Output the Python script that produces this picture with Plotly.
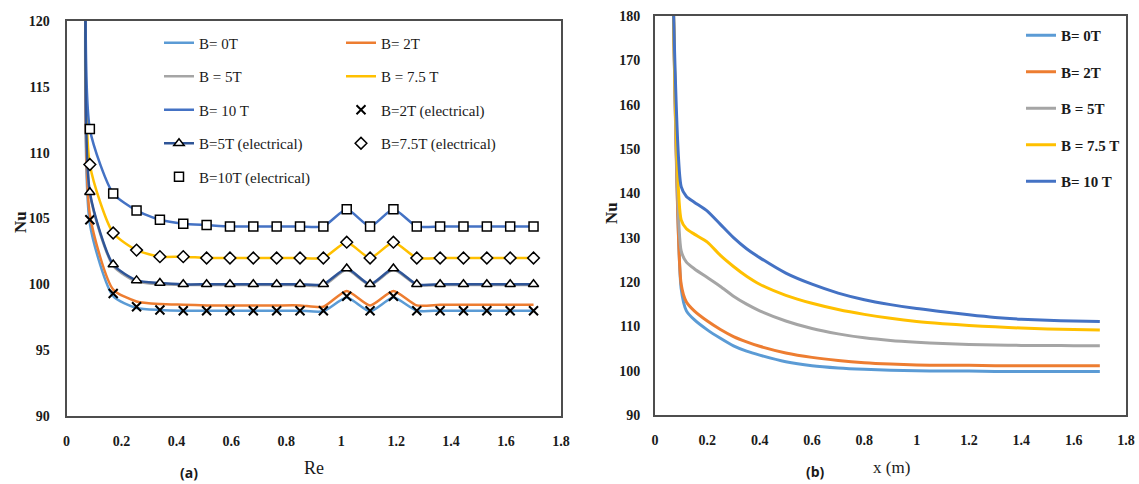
import plotly.graph_objects as go

# ---------------- Panel (a): Nu vs Re ----------------
re_marks = [0.085, 0.17, 0.255, 0.34, 0.425, 0.51, 0.595, 0.68, 0.765, 0.85,
            0.935, 1.02, 1.105, 1.19, 1.275, 1.36, 1.445, 1.53, 1.615, 1.70]
re_line = [0.075, 0.085, 0.17, 0.255, 0.34, 0.425, 0.51, 0.595, 0.68, 0.765, 0.85,
           0.935, 1.02, 1.105, 1.19, 1.275, 1.36, 1.445, 1.53, 1.615, 1.70]

nu_a_0T = [135, 104.6, 99.1, 98.2, 98.05, 98.0, 98.0, 98.0, 98.0, 98.0, 98.0,
           97.95, 99.0, 97.95, 99.0, 98.0, 98.0, 98.0, 98.0, 98.0, 98.0]
nu_a_2T = [135, 105.3, 99.6, 98.7, 98.5, 98.45, 98.4, 98.4, 98.4, 98.4, 98.4,
           98.3, 99.5, 98.4, 99.5, 98.4, 98.45, 98.45, 98.45, 98.45, 98.45]
nu_a_5T = [135, 106.9, 101.4, 100.2, 100.0, 99.95, 99.95, 99.95, 99.95, 99.95, 99.95,
           99.9, 101.1, 99.95, 101.1, 99.95, 99.95, 99.95, 99.95, 99.95, 99.95]
nu_a_75T = [135, 109.1, 103.9, 102.6, 102.1, 102.1, 102.0, 102.0, 102.0, 102.0, 102.0,
            102.0, 103.2, 102.0, 103.2, 102.0, 102.0, 102.0, 102.0, 102.0, 102.0]
nu_a_10T = [135, 111.8, 106.9, 105.6, 104.9, 104.6, 104.5, 104.4, 104.4, 104.4, 104.4,
            104.4, 105.7, 104.4, 105.7, 104.4, 104.4, 104.4, 104.4, 104.4, 104.4]

nu_e_2T = [104.9, 99.3, 98.3, 98.05, 98.0, 98.0, 98.0, 98.0, 98.0, 98.0,
           98.0, 99.1, 98.0, 99.1, 98.0, 98.0, 98.0, 98.0, 98.0, 98.0]
nu_e_5T = [135, 107.0, 101.5, 100.3, 100.1, 100.0, 100.0, 100.0, 100.0, 100.0, 100.0,
           100.0, 101.2, 100.0, 101.2, 100.0, 100.0, 100.0, 100.0, 100.0, 100.0]
nu_e_75T = [109.1, 103.9, 102.6, 102.1, 102.1, 102.0, 102.0, 102.0, 102.0, 102.0,
            102.0, 103.2, 102.0, 103.2, 102.0, 102.0, 102.0, 102.0, 102.0, 102.0]
nu_e_10T = [111.8, 106.9, 105.6, 104.9, 104.6, 104.5, 104.4, 104.4, 104.4, 104.4,
            104.4, 105.7, 104.4, 105.7, 104.4, 104.4, 104.4, 104.4, 104.4, 104.4]

# ---------------- Panel (b): Nu vs x ----------------
x_b = [0.07, 0.1, 0.12, 0.15, 0.2, 0.25, 0.3, 0.35, 0.4, 0.5, 0.6, 0.7, 0.8, 0.9,
       1.0, 1.1, 1.2, 1.3, 1.4, 1.5, 1.6, 1.7]
nu_b_10T = [183, 141.5, 139.3, 138.0, 136.0, 133.0, 130.0, 127.5, 125.5, 122.0, 119.5,
            117.5, 116.0, 114.9, 114.0, 113.3, 112.6, 112.0, 111.6, 111.35, 111.2, 111.1]
nu_b_75T = [183, 134.0, 132.0, 130.8, 129.0, 126.0, 123.5, 121.3, 119.5, 117.0, 115.2,
            113.8, 112.7, 111.8, 111.1, 110.6, 110.2, 109.9, 109.6, 109.4, 109.3, 109.2]
nu_b_5T = [183, 127.0, 124.5, 123.0, 121.0, 119.0, 116.8, 115.0, 113.5, 111.2, 109.5,
           108.3, 107.4, 106.8, 106.4, 106.1, 105.9, 105.8, 105.7, 105.7, 105.6, 105.6]
nu_b_2T = [183, 119.5, 115.5, 113.5, 111.2, 109.3, 107.7, 106.5, 105.5, 104.0, 103.0,
           102.3, 101.8, 101.5, 101.3, 101.2, 101.2, 101.1, 101.1, 101.1, 101.1, 101.1]
nu_b_0T = [183, 118.5, 113.5, 111.5, 109.2, 107.3, 105.6, 104.4, 103.5, 102.0, 101.1,
           100.6, 100.3, 100.1, 100.0, 99.9, 99.9, 99.8, 99.8, 99.8, 99.8, 99.8]

names_a = ["B= 0T", "B= 2T", "B = 5T", "B = 7.5 T", "B= 10 T",
           "B=2T (electrical)", "B=5T (electrical)", "B=7.5T (electrical)", "B=10T (electrical)"]
names_b = ["B= 0T", "B= 2T", "B = 5T", "B = 7.5 T", "B= 10 T"]

C0, C2, C5, C75, C10, CE5 = "#5B9BD5", "#ED7D31", "#A5A5A5", "#FFC000", "#4472C4", "#2F5597"

W, H = 1139, 484
SERIF = "Liberation Serif"
TXT = "#1a1a1a"


def px(x):   # window pixel -> paper x
    return x / W


def py(y):   # window pixel -> paper y
    return 1 - y / H


fig = go.Figure()


def add_line(x, y, name, color, legend, xa, ya, width=2.5):
    fig.add_trace(go.Scatter(x=x, y=y, name=name, mode="lines",
                             line=dict(color=color, width=width, shape="spline", smoothing=0.6),
                             legend=legend, legendgroup=name + legend,
                             xaxis=xa, yaxis=ya))


# panel (a) lines (column 1 = legend, column 2 = legend2)
add_line(re_line, nu_a_0T, names_a[0], C0, "legend", "x", "y")
add_line(re_line, nu_a_2T, names_a[1], C2, "legend2", "x", "y")
add_line(re_line, nu_a_5T, names_a[2], C5, "legend", "x", "y")
add_line(re_line, nu_a_75T, names_a[3], C75, "legend2", "x", "y")
add_line(re_line, nu_a_10T, names_a[4], C10, "legend", "x", "y")

mk_line = dict(color="black", width=1.5)
fig.add_trace(go.Scatter(x=re_marks, y=nu_e_2T, name=names_a[5], mode="markers",
                         marker=dict(symbol="x-thin", size=9, line=dict(color="black", width=2)),
                         legend="legend2", legendgroup="e2", xaxis="x", yaxis="y"))
fig.add_trace(go.Scatter(x=re_line, y=nu_e_5T, name=names_a[6], mode="lines+markers",
                         line=dict(color=CE5, width=2.5, shape="spline", smoothing=0.6),
                         marker=dict(symbol="triangle-up", size=9, color="white", line=mk_line),
                         legend="legend", legendgroup="e5", xaxis="x", yaxis="y"))
fig.add_trace(go.Scatter(x=re_marks, y=nu_e_75T, name=names_a[7], mode="markers",
                         marker=dict(symbol="diamond", size=9, color="white", line=mk_line),
                         legend="legend2", legendgroup="e75", xaxis="x", yaxis="y"))
fig.add_trace(go.Scatter(x=re_marks, y=nu_e_10T, name=names_a[8], mode="markers",
                         marker=dict(symbol="square", size=9, color="white", line=mk_line),
                         legend="legend", legendgroup="e10", xaxis="x", yaxis="y"))

# panel (b)
for yv, nm, col in [(nu_b_0T, names_b[0], C0), (nu_b_2T, names_b[1], C2),
                    (nu_b_5T, names_b[2], C5), (nu_b_75T, names_b[3], C75),
                    (nu_b_10T, names_b[4], C10)]:
    add_line(x_b, yv, nm, col, "legend3", "x2", "y2", width=3)

axis_common = dict(showgrid=False, zeroline=False, showline=True, mirror=True,
                   linecolor="#4d4d4d", linewidth=2, ticks="", automargin=False,
                   ticklabeloverflow="allow",
                   tickfont=dict(family=SERIF, size=14, color=TXT, weight="bold"))

fig.update_layout(
    width=W, height=H, margin=dict(l=0, r=0, t=0, b=0, autoexpand=False),
    paper_bgcolor="white", plot_bgcolor="white",
    xaxis=dict(domain=[px(66.5), px(561)], range=[0, 1.8], dtick=0.2,
               ticklabelstandoff=11, anchor="y", **axis_common),
    yaxis=dict(domain=[py(416), py(21)], range=[90, 120], dtick=5,
               ticklabelstandoff=12, anchor="x", **axis_common),
    xaxis2=dict(domain=[px(655), px(1126)], range=[0, 1.8], dtick=0.2,
                ticklabelstandoff=11, anchor="y2", **axis_common),
    yaxis2=dict(domain=[py(415), py(16)], range=[90, 180], dtick=10,
                ticklabelstandoff=10, anchor="x2", **axis_common),
    showlegend=True,
    legend=dict(x=px(159), y=py(26.5), xanchor="left", yanchor="top",
                bgcolor="rgba(0,0,0,0)", tracegroupgap=11,
                font=dict(family=SERIF, size=15, color=TXT)),
    legend2=dict(x=px(341), y=py(26.5), xanchor="left", yanchor="top",
                 bgcolor="rgba(0,0,0,0)", tracegroupgap=11,
                 font=dict(family=SERIF, size=15, color=TXT)),
    legend3=dict(x=px(1021), y=py(19), xanchor="left", yanchor="top",
                 bgcolor="rgba(0,0,0,0)", tracegroupgap=14,
                 font=dict(family=SERIF, size=15, color=TXT, weight="bold")),
)

ann = [
    dict(text="<b>Nu</b>", x=px(20), y=py(222), textangle=-90,
         font=dict(family=SERIF, size=17, color=TXT)),
    dict(text="<b>Nu</b>", x=px(611), y=py(213), textangle=-90,
         font=dict(family=SERIF, size=17, color=TXT)),
    dict(text="Re", x=px(314), y=py(468),
         font=dict(family=SERIF, size=18, color=TXT)),
    dict(text="x (m)", x=px(891), y=py(467),
         font=dict(family=SERIF, size=17, color=TXT)),
    dict(text="<b>(a)</b>", x=px(189), y=py(472),
         font=dict(family="Open Sans", size=14, color=TXT)),
    dict(text="<b>(b)</b>", x=px(815), y=py(471),
         font=dict(family="Open Sans", size=14, color=TXT)),
]
for a in ann:
    a.update(xref="paper", yref="paper", showarrow=False, xanchor="center", yanchor="middle")
fig.update_layout(annotations=ann)

# remove the browser's default 8px body margin so the figure fills the window exactly
fig.write_html("out.html", config={"displayModeBar": False},
               post_script="document.body.style.margin='0';document.body.style.overflow='hidden';")
